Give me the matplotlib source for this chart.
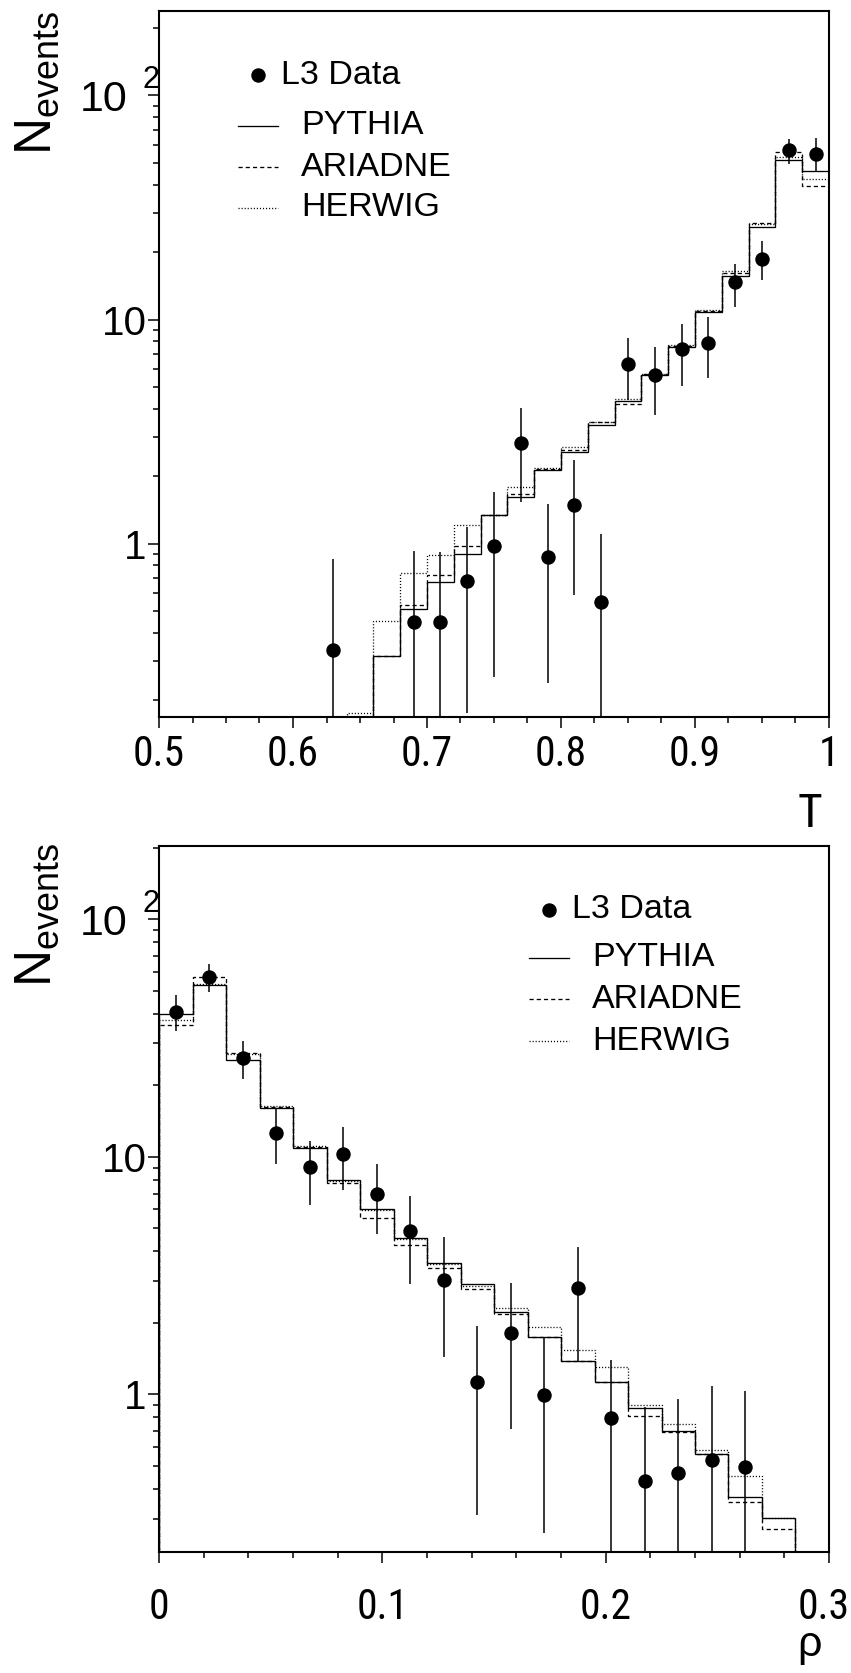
import numpy as np
import matplotlib
matplotlib.use('Agg')
import matplotlib.pyplot as plt
from matplotlib import font_manager
import matplotlib.transforms as mtrans
from matplotlib.ticker import LogLocator, NullFormatter, FuncFormatter, MultipleLocator, FixedLocator

# ---------------- data: thrust T ----------------
T_centers = [0.63, 0.69, 0.71, 0.73, 0.75, 0.77, 0.79, 0.81, 0.83,
             0.85, 0.87, 0.89, 0.91, 0.93, 0.95, 0.97, 0.99]
T_data = [0.334, 0.449, 0.449, 0.682, 0.98, 2.80, 0.872, 1.48, 0.548,
          6.32, 5.65, 7.35, 7.87, 14.7, 18.7, 56.8, 54.9]
T_data_lo = [0.0, 0.0, 0.0, 0.175, 0.255, 1.54, 0.238, 0.592, 0.0,
             4.38, 3.74, 5.06, 5.49, 11.4, 15.0, 49.4, 45.3]
T_data_hi = [0.855, 0.93, 0.915, 1.19, 1.70, 4.05, 1.50, 2.36, 1.10,
             8.31, 7.55, 9.53, 10.25, 17.7, 22.5, 64.1, 64.6]

T_edges_py = [0.66, 0.68, 0.70, 0.72, 0.74, 0.76, 0.78, 0.80, 0.82,
              0.84, 0.86, 0.88, 0.90, 0.92, 0.94, 0.96, 0.98, 1.00]
T_edges_hw = [0.64] + T_edges_py
T_pythia = [0.316, 0.513, 0.675, 0.90, 1.34, 1.62, 2.13, 2.57, 3.40,
            4.35, 5.66, 7.57, 10.8, 15.6, 25.8, 51.3, 46.1]
T_ariadne = [0.316, 0.531, 0.727, 0.98, 1.34, 1.67, 2.15, 2.62, 3.50,
             4.19, 5.70, 7.62, 10.9, 16.2, 26.9, 55.7, 39.5]
T_herwig = [0.175, 0.453, 0.738, 0.893, 1.21, 1.34, 1.79, 2.17, 2.71, 3.50,
            4.40, 5.70, 7.70, 11.0, 16.4, 26.6, 53.1, 42.5]
T_ticks = [0.5, 0.6, 0.7, 0.8, 0.9, 1.0]
T_ticklabels = ['0.5', '0.6', '0.7', '0.8', '0.9', '1']

# ---------------- data: heavy jet mass rho ----------------
rho_centers = [0.0075, 0.0225, 0.0375, 0.0525, 0.0675, 0.0825, 0.0975, 0.1125, 0.1275,
               0.1425, 0.1575, 0.1725, 0.1875, 0.2025, 0.2175, 0.2325, 0.2475, 0.2625]
rho_data = [40.7, 57.1, 26.0, 12.6, 9.05, 10.3, 6.98, 4.85, 3.02,
            1.13, 1.82, 0.99, 2.79, 0.795, 0.43, 0.467, 0.53, 0.496]
rho_data_lo = [33.8, 49.5, 21.2, 9.29, 6.28, 7.24, 4.74, 2.92, 1.44,
               0.31, 0.718, 0.261, 1.38, 0.0, 0.0, 0.0, 0.0, 0.0]
rho_data_hi = [47.7, 64.6, 30.7, 15.9, 11.6, 13.4, 9.28, 6.81, 4.58,
               1.94, 2.93, 1.72, 4.17, 1.39, 0.885, 0.96, 1.08, 1.03]

rho_edges = [0.0, 0.015, 0.03, 0.045, 0.06, 0.075, 0.09, 0.105, 0.12, 0.135,
             0.15, 0.165, 0.18, 0.195, 0.21, 0.225, 0.24, 0.255, 0.27, 0.285]
rho_pythia = [39.9, 53.0, 25.5, 16.1, 10.85, 7.98, 6.0, 4.55, 3.58, 2.91,
              2.23, 1.75, 1.38, 1.13, 0.877, 0.701, 0.561, 0.37, 0.303]
rho_ariadne = [35.9, 57.3, 27.4, 16.2, 11.0, 7.73, 5.52, 4.26, 3.39, 2.78,
               2.18, 1.74, 1.38, 1.13, 0.811, 0.695, 0.56, 0.353, 0.271]
rho_herwig = [37.6, 53.5, 27.0, 16.4, 11.1, 7.9, 5.95, 4.5, 3.52, 2.87,
              2.30, 1.92, 1.53, 1.30, 0.906, 0.748, 0.581, 0.452, 0.303]
rho_ticks = [0.0, 0.1, 0.2, 0.3]
rho_ticklabels = ['0', '0.1', '0.2', '0.3']

legend_labels = ['L3 Data', 'PYTHIA', 'ARIADNE', 'HERWIG']

# ---------------- fonts ----------------
REG = 'Liberation Sans'


def pick_narrow():
    prefs = ['liberation sans narrow', 'arial narrow', 'roboto condensed',
             'open sans condensed', 'noto sans', 'dejavu sans']
    best, best_rank = None, 999
    for f in font_manager.fontManager.ttflist:
        nm = f.name.lower()
        fn = f.fname.lower().replace('-', '').replace('_', '')
        st = str(f.stretch).lower()
        cond = ('narrow' in nm or 'condensed' in nm or 'condensed' in st
                or 'condensed' in fn or 'narrow' in fn)
        if not cond or 'extra' in st or 'ultra' in st or 'extracondensed' in fn:
            continue
        if f.style != 'normal':
            continue
        if str(f.weight).lower() not in ('400', 'normal', 'regular', 'book'):
            continue
        rank = 50
        for i, p in enumerate(prefs):
            if nm.startswith(p):
                rank = i
                break
        if 'semicondensed' in fn or 'semi' in st:
            rank += 10
        if rank < best_rank:
            best, best_rank = f, rank
    return best


_nf = pick_narrow()
if _nf is not None:
    NARROW_FP = font_manager.FontProperties(fname=_nf.fname)
    xt_size, xl_size = 30, 34
else:
    NARROW_FP = font_manager.FontProperties(family=REG)
    xt_size, xl_size = 25, 30

plt.rcParams['font.family'] = [REG, 'DejaVu Sans']
plt.rcParams['mathtext.fontset'] = 'custom'
plt.rcParams['mathtext.rm'] = REG
plt.rcParams['mathtext.it'] = REG + ':italic'
plt.rcParams['mathtext.bf'] = REG + ':bold'
plt.rcParams['lines.scale_dashes'] = False

W, H = 851, 1673
fig = plt.figure(figsize=(W / 100, H / 100), dpi=100)


def fx(px):
    return px / W


def fy(py):
    return 1 - py / H


def nfp(size):
    p = NARROW_FP.copy()
    p.set_size(size)
    return p


AX_L, AX_R = 159, 829
ax1 = fig.add_axes([fx(AX_L), fy(717), (AX_R - AX_L) / W, (717 - 11) / H])
ax2 = fig.add_axes([fx(AX_L), fy(1551.6), (AX_R - AX_L) / W, (1551.6 - 846) / H])

DASH = (0, (3.0, 2.2))
DOT = (0, (0.8, 1.4))
HLW = 0.95
MS = 9.4
MAJ_LEN = 8


def ylab(v, pos):
    if abs(v - 10) < 1e-6:
        return '10'
    if abs(v - 1) < 1e-6:
        return '1'
    return ''


def style(ax, xlim, ylim, xminor, xpad, ticks, ticklabels, edge_label=None):
    ax.set_yscale('log')
    ax.set_xlim(*xlim)
    ax.set_ylim(*ylim)
    ax.xaxis.set_major_locator(FixedLocator(ticks))
    ax.xaxis.set_minor_locator(MultipleLocator(xminor))
    ax.yaxis.set_major_locator(FixedLocator([1, 10, 100]))
    ax.yaxis.set_minor_locator(LogLocator(base=10, subs=np.arange(2, 10) * 1.0, numticks=20))
    ax.yaxis.set_major_formatter(FuncFormatter(ylab))
    ax.yaxis.set_minor_formatter(NullFormatter())
    ax.tick_params(which='both', direction='out', top=False, right=False, width=1.1)
    ax.tick_params(which='major', length=MAJ_LEN)
    ax.tick_params(which='minor', length=4.3)
    ax.tick_params(axis='y', which='major', labelsize=29, pad=1)
    ax.tick_params(axis='x', which='major', pad=xpad)
    labs = list(ticklabels)
    if edge_label is not None:
        # last label sits at the figure edge: draw it separately, nudged inward
        labs[-1] = ''
        tr = mtrans.blended_transform_factory(ax.transData, ax.transAxes)
        tr = mtrans.offset_copy(tr, fig=fig, x=-4, y=-(MAJ_LEN + xpad), units='points')
        ax.text(ticks[-1], 0, edge_label, transform=tr, ha='center', va='top',
                fontproperties=nfp(xt_size), clip_on=False)
    ax.set_xticklabels(labs, fontproperties=nfp(xt_size))
    for s in ax.spines.values():
        s.set_linewidth(1.5)
    # "10 2" label at the 10^2 tick, ROOT style
    trans = mtrans.blended_transform_factory(fig.transFigure, ax.transData)
    ax.text(fx(127), 100, '10', transform=trans, ha='right', va='center_baseline',
            fontsize=31, clip_on=False)
    trans2 = mtrans.offset_copy(trans, fig=fig, x=0, y=19, units='dots')
    ax.text(fx(142), 100, '2', transform=trans2, ha='left', va='center_baseline',
            fontsize=22, clip_on=False)


def draw(ax, xc, yd, ylo, yhi, mc_sets):
    for vals, edges, ls in mc_sets:
        ax.stairs(vals, edges, baseline=1e-3, color='black', lw=HLW, linestyle=ls, zorder=2)
    yd = np.asarray(yd)
    err = [yd - np.asarray(ylo), np.asarray(yhi) - yd]
    ax.errorbar(xc, yd, yerr=err, fmt='o', color='black', ms=MS, elinewidth=1.1,
                capsize=0, zorder=3)


draw(ax1, T_centers, T_data, T_data_lo, T_data_hi,
     [(T_herwig, T_edges_hw, DOT), (T_ariadne, T_edges_py, DASH), (T_pythia, T_edges_py, '-')])
style(ax1, (0.5, 1.0), (0.1685, 238), 0.025, 4.5, T_ticks, T_ticklabels)

draw(ax2, rho_centers, rho_data, rho_data_lo, rho_data_hi,
     [(rho_herwig, rho_edges, DOT), (rho_ariadne, rho_edges, DASH), (rho_pythia, rho_edges, '-')])
style(ax2, (0.0, 0.3), (0.218, 203), 0.02, 17.5, rho_ticks, rho_ticklabels,
      edge_label=rho_ticklabels[-1])

# axis titles
for ytop in (11, 843):
    fig.text(fx(13), fy(ytop), r'$\mathregular{N_{events}}$', rotation=90,
             ha='left', va='top', fontsize=37)
fig.text(fx(822), fy(827), 'T', ha='right', va='baseline', fontproperties=nfp(xl_size))
fig.text(fx(822), fy(1656), 'ρ', ha='right', va='baseline', fontsize=31,
         fontfamily=[REG, 'DejaVu Sans'])


# legends
def legend(ax, x0, ys):
    # x0: left end of line samples (px); ys: row centres (px)
    mx = x0 + 20
    ax.plot([fx(mx)], [fy(ys[0])], 'o', color='black', ms=MS,
            transform=fig.transFigure, clip_on=False)
    ax.text(fx(x0 + 43), fy(ys[0]), legend_labels[0], transform=fig.transFigure,
            ha='left', va='center', fontsize=24.5)
    for lab, y, ls in zip(legend_labels[1:], ys[1:], ['-', DASH, DOT]):
        ax.plot([fx(x0), fx(x0 + 40)], [fy(y), fy(y)], color='black', lw=HLW,
                linestyle=ls, transform=fig.transFigure, clip_on=False)
        ax.text(fx(x0 + 63), fy(y), lab, transform=fig.transFigure,
                ha='left', va='center', fontsize=24.5)


legend(ax1, 238, [75, 126, 167, 208])
legend(ax2, 529, [910, 958, 999, 1041])

fig.savefig('out.png', dpi=100)
